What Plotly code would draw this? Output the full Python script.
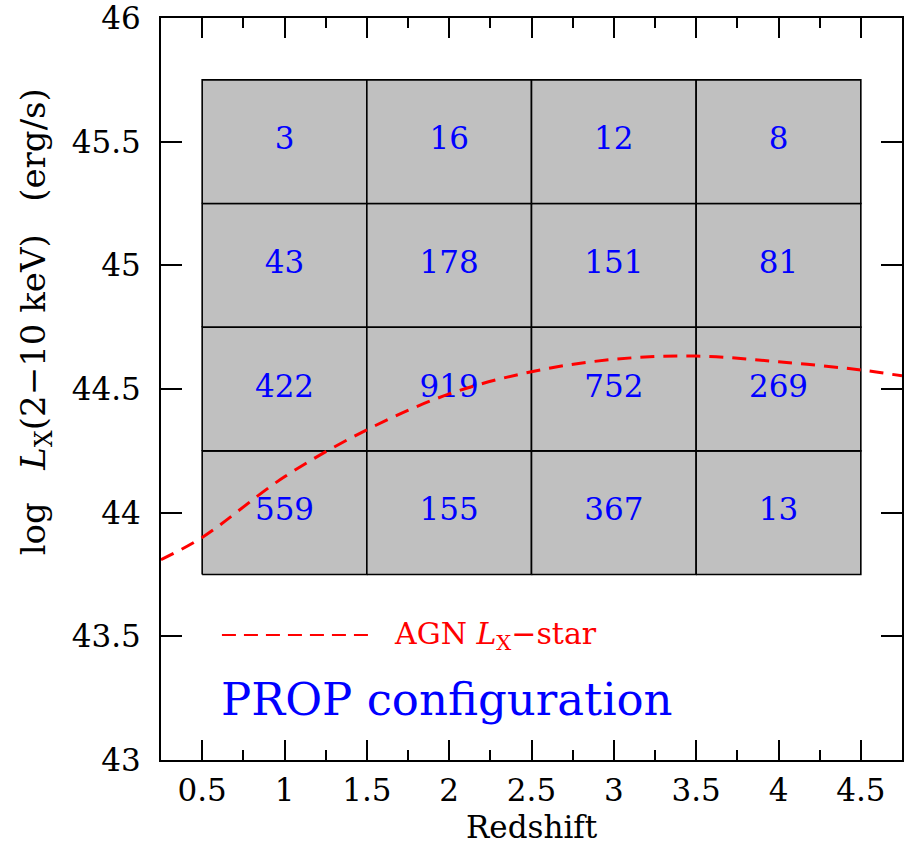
import plotly.graph_objects as go

# Bin edges of the redshift / luminosity grid
z_edges = [0.5, 1.5, 2.5, 3.5, 4.5]
lx_edges = [43.75, 44.25, 44.75, 45.25, 45.75]

# Number of sources per bin, rows from low to high luminosity
counts = [
    [559, 155, 367, 13],
    [422, 919, 752, 269],
    [43, 178, 151, 81],
    [3, 16, 12, 8],
]

# AGN L_X-star as a function of redshift
lstar_z = [0.25, 0.5, 1.0, 1.5, 2.0, 2.5, 3.0, 3.5, 4.0, 4.5, 4.75]
lstar_lx = [43.81, 43.90, 44.145, 44.335, 44.48, 44.57, 44.62, 44.633, 44.61, 44.577, 44.553]

# Axis ticks
x_ticks = [0.5, 1, 1.5, 2, 2.5, 3, 3.5, 4, 4.5]
x_ticktext = ["0.5", "1", "1.5", "2", "2.5", "3", "3.5", "4", "4.5"]
y_ticks = [43, 43.5, 44, 44.5, 45, 45.5, 46]
y_ticktext = ["43", "43.5", "44", "44.5", "45", "45.5", "46"]

# Legend sample segment
legend_z = [0.62, 1.54]
legend_lx = [43.505, 43.505]

SERIF = "DejaVu Serif"
BLUE = "#0000ff"
RED = "#ff0000"
NB = "\u00a0"

fig = go.Figure()

# Grey cells with black borders
for i in range(len(lx_edges) - 1):
    for j in range(len(z_edges) - 1):
        x0, x1 = z_edges[j], z_edges[j + 1]
        y0, y1 = lx_edges[i], lx_edges[i + 1]
        fig.add_trace(go.Scatter(
            x=[x0, x1, x1, x0, x0], y=[y0, y0, y1, y1, y0],
            mode="lines", fill="toself", fillcolor="#c0c0c0",
            line=dict(color="black", width=1.6),
            hoverinfo="skip", showlegend=False,
        ))

# Counts at cell centres
cx, cy, ct = [], [], []
for i in range(len(lx_edges) - 1):
    for j in range(len(z_edges) - 1):
        cx.append((z_edges[j] + z_edges[j + 1]) / 2)
        cy.append((lx_edges[i] + lx_edges[i + 1]) / 2)
        ct.append(str(counts[i][j]))
fig.add_trace(go.Scatter(
    x=cx, y=cy, text=ct, mode="text",
    textfont=dict(family=SERIF, size=31, color=BLUE),
    textposition="middle center", showlegend=False, hoverinfo="skip",
))

# L_X-star curve
fig.add_trace(go.Scatter(
    x=lstar_z, y=lstar_lx, mode="lines",
    line=dict(color=RED, width=3, dash="14px,9px", shape="spline", smoothing=1.0),
    showlegend=False, hoverinfo="skip",
))

# Legend line sample
fig.add_trace(go.Scatter(
    x=legend_z, y=legend_lx, mode="lines",
    line=dict(color=RED, width=2, dash="14px,8px"),
    showlegend=False, hoverinfo="skip",
))

fig.add_annotation(
    x=1.65, y=43.505, xref="x", yref="y", xanchor="left", yanchor="middle",
    text="AGN <i>L</i><sub>X</sub>\u2212star", showarrow=False,
    font=dict(family=SERIF, size=30, color=RED),
)
fig.add_annotation(
    x=0.6, y=43.245, xref="x", yref="y", xanchor="left", yanchor="middle",
    text="PROP configuration", showarrow=False,
    font=dict(family=SERIF, size=45, color=BLUE),
)

fig.add_annotation(
    x=0.5, y=-0.09, xref="paper", yref="paper", xanchor="center", yanchor="middle",
    text="Redshift", showarrow=False,
    font=dict(family=SERIF, size=31, color="black"),
)
fig.add_annotation(
    x=-0.17, y=0.59, xref="paper", yref="paper", xanchor="center", yanchor="middle",
    text="log" + NB * 3 + "<i>L</i><sub>X</sub>(2\u221210" + NB + "keV)" + NB * 3 + "(erg/s)",
    textangle=-90, showarrow=False,
    font=dict(family=SERIF, size=34, color="black"),
)

fig.update_xaxes(
    range=[0.25, 4.75], tickmode="array", tickvals=x_ticks, ticktext=x_ticktext,
    showgrid=False, zeroline=False, automargin=False,
    showline=True, linecolor="black", linewidth=2, mirror="allticks",
    ticks="inside", ticklen=20, tickwidth=1.5, tickcolor="black",
    minor=dict(dtick=0.25, tick0=0.25, ticks="inside", ticklen=10, tickwidth=1.5, tickcolor="black", showgrid=False),
    tickfont=dict(family=SERIF, size=31, color="black"),
    ticklabelstandoff=2, ticklabeloverflow="allow",
)
fig.update_yaxes(
    range=[43, 46], tickmode="array", tickvals=y_ticks, ticktext=y_ticktext,
    showgrid=False, zeroline=False, automargin=False,
    showline=True, linecolor="black", linewidth=2, mirror="allticks",
    ticks="inside", ticklen=21, tickwidth=1.5, tickcolor="black",
    tickfont=dict(family=SERIF, size=31, color="black"),
    ticklabelstandoff=12, ticklabeloverflow="allow",
)

fig.update_layout(
    width=905, height=845,
    margin=dict(l=161, r=3, t=18, b=85),
    paper_bgcolor="white", plot_bgcolor="white",
    showlegend=False,
)

fig.write_html("out.html")
